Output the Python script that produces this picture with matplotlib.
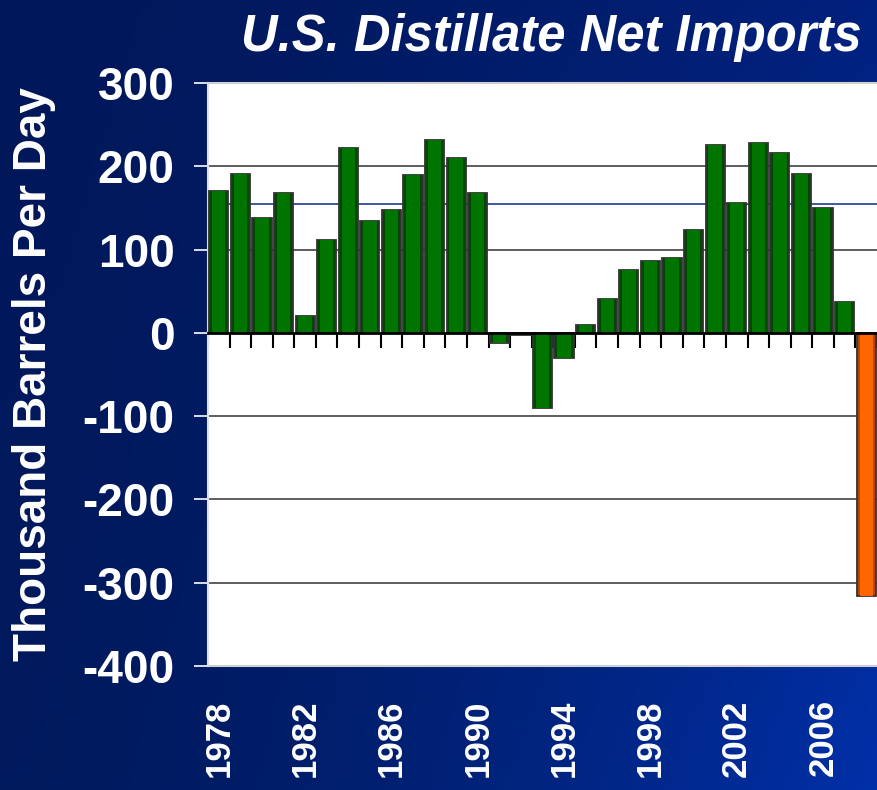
import numpy as np
import matplotlib
matplotlib.use("Agg")
import matplotlib.pyplot as plt

# --- data (thousand barrels per day) ---
years = list(range(1978, 2009))
net_imports = [170, 191, 138, 168, 20, 111, 222, 134, 148, 189,
               232, 210, 168, -12, -3, -90, -30, 10, 41, 76,
               86, 90, 123, 226, 156, 228, 216, 191, 150, 37,
               -316]
highlight_year = 2008
ref_level = 155
y_ticks = [-400, -300, -200, -100, 0, 100, 200, 300]
label_years = [1978, 1982, 1986, 1990, 1994, 1998, 2002, 2006]

plt.rcParams['font.family'] = ['Liberation Sans', 'DejaVu Sans']

fig = plt.figure(figsize=(8.77, 7.9), dpi=100)

# background gradient (corner colours)
bg = fig.add_axes([0, 0, 1, 1], zorder=-10)
tl = np.array([0x00, 0x18, 0x5a]) / 255
tr = np.array([0x02, 0x21, 0x7f]) / 255
bl = np.array([0x00, 0x1a, 0x5e]) / 255
br = np.array([0x00, 0x30, 0xa8]) / 255
u = np.linspace(0, 1, 200)[None, :, None]
v = np.linspace(0, 1, 200)[:, None, None]
u2 = u ** 1.6
img = (1 - v) * ((1 - u2) * tl + u2 * tr) + v * ((1 - u2) * bl + u2 * br)
bg.imshow(img, aspect='auto', extent=[0, 1, 0, 1], origin='upper')
bg.set_axis_off()

ax = fig.add_axes([208 / 877, 1 - 666 / 790, 1 - 208 / 877, (666 - 83) / 790])
ax.set_facecolor('white')

x = np.arange(len(years))
colors = ['#ff6600' if y == highlight_year else '#007400' for y in years]
shade = ['#b84800' if y == highlight_year else '#004800' for y in years]

# bars: darker outer body, lighter centre for the shaded look
ax.bar(x, net_imports, width=0.89, color=shade, edgecolor='#333333',
       linewidth=1.3, zorder=3)
ax.bar(x, net_imports, width=0.62, color=colors, linewidth=0, zorder=4)

for t in y_ticks[1:-1]:
    if t != 0:
        ax.axhline(t, color='#505050', lw=1.3, zorder=1)
ax.axhline(ref_level, color='#0a2a8c', lw=1.1, zorder=1)

ax.set_xlim(-0.5, len(years) - 0.5)
ax.set_ylim(-400, 300)

# category axis crossing at zero, ticks between categories
ax.spines['bottom'].set_position(('data', 0))
ax.spines['bottom'].set_color('black')
ax.spines['bottom'].set_linewidth(2)
ax.spines['bottom'].set_zorder(5)
ax.set_xticks(np.arange(len(years) + 1) - 0.5)
ax.tick_params(axis='x', direction='out', length=11, width=1.5,
               color='black', labelbottom=False)

ax.spines['top'].set_color('#d0d0d0')
ax.spines['top'].set_linewidth(1.5)
ax.spines['right'].set_visible(False)
ax.spines['left'].set_color('#e0e0e0')
ax.spines['left'].set_linewidth(1.5)

ax.set_yticks(y_ticks)
ax.set_yticklabels([str(t) for t in y_ticks])
ax.tick_params(axis='y', direction='out', length=10, width=1.2,
               color='white', pad=14, labelsize=33, labelcolor='white')
for lab in ax.get_yticklabels():
    lab.set_fontweight('bold')

ax.set_ylabel('Thousand Barrels Per Day', fontsize=33, fontweight='bold',
              color='white', labelpad=19)

# year labels along bottom of the figure
sec = ax.secondary_xaxis(location=0)
sec.spines['bottom'].set_color('#d0d0d0')
sec.spines['bottom'].set_linewidth(1.5)
sec.set_xticks([years.index(y) for y in label_years])
sec.set_xticklabels([str(y) for y in label_years], rotation=90,
                    fontsize=25, fontweight='bold', color='white',
                    va='top')
sec.tick_params(axis='x', length=0, pad=24)

fig.text(862 / 877, 1 - 38 / 790, 'U.S. Distillate Net Imports',
         ha='right', va='center', fontsize=36.5, fontweight='bold',
         fontstyle='italic', color='white')

fig.savefig('out.png', dpi=100, facecolor='#00185a')
